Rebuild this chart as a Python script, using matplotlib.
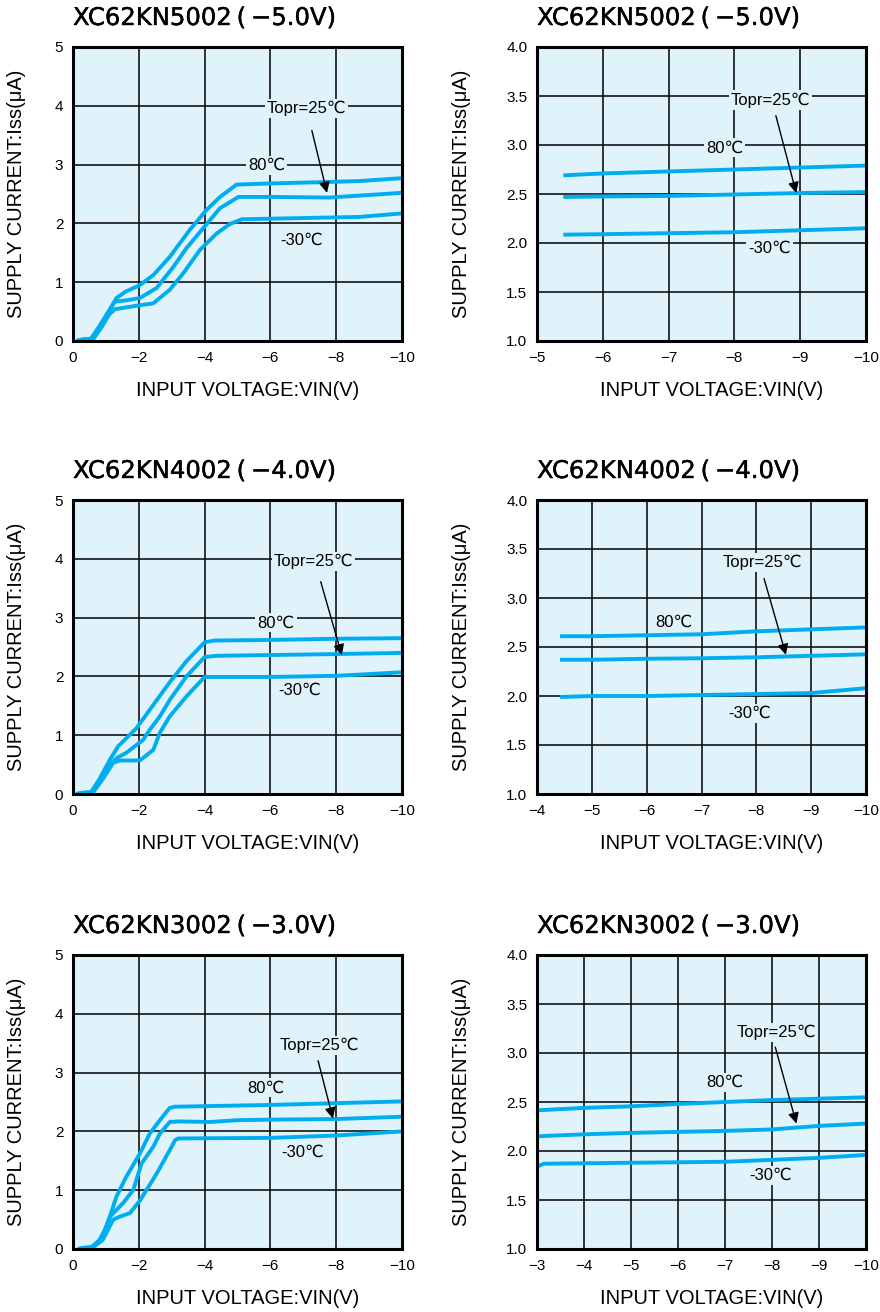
import matplotlib.pyplot as plt
import matplotlib.patheffects as pe

# 色
LINE = '#00aeef'
FACE = '#e0f2fa'

plt.rcParams['font.family'] = ['Liberation Sans', 'DejaVu Sans']

titles = ['XC62KN5002\u2009(\u2009−5.0V)', 'XC62KN4002\u2009(\u2009−4.0V)', 'XC62KN3002\u2009(\u2009−3.0V)']
temp_labels = ['Topr=25℃', '80℃', '-30℃']
xlabel = 'INPUT VOLTAGE:VIN(V)'
ylabel = 'SUPPLY CURRENT:Iss(μA)'

# XC62KN5002 0～-10V
a_v80 = [-0.1, -0.3, -0.55, -0.8, -1.1, -1.32, -1.6, -2.03, -2.44, -2.94, -3.55, -4.06, -4.47, -4.97, -6.0, -7.5, -8.7, -10.0]
a_i80 = [0.0, 0.03, 0.04, 0.25, 0.52, 0.73, 0.84, 0.95, 1.12, 1.43, 1.89, 2.23, 2.45, 2.66, 2.68, 2.70, 2.72, 2.77]
a_v25 = [-0.1, -0.3, -0.55, -0.8, -1.1, -1.27, -1.6, -2.03, -2.54, -3.05, -3.45, -3.96, -4.47, -5.03, -6.0, -7.8, -10.0]
a_i25 = [0.0, 0.02, 0.03, 0.24, 0.5, 0.67, 0.69, 0.73, 0.90, 1.26, 1.58, 1.92, 2.26, 2.45, 2.45, 2.44, 2.52]
a_vm30 = [-0.1, -0.3, -0.6, -0.85, -1.1, -1.27, -1.6, -1.93, -2.44, -2.94, -3.35, -3.86, -4.37, -4.77, -5.13, -6.0, -8.7, -10.0]
a_im30 = [0.0, 0.02, 0.02, 0.22, 0.45, 0.54, 0.57, 0.60, 0.64, 0.87, 1.15, 1.55, 1.83, 1.99, 2.07, 2.08, 2.11, 2.17]

# XC62KN5002 拡大
b_v = [-5.4, -6.0, -7.0, -8.0, -9.0, -10.0]
b_i80 = [2.69, 2.71, 2.73, 2.75, 2.77, 2.79]
b_i25 = [2.47, 2.475, 2.48, 2.495, 2.51, 2.52]
b_im30 = [2.085, 2.09, 2.10, 2.11, 2.13, 2.15]

# XC62KN4002 0～-10V
c_v80 = [-0.1, -0.3, -0.55, -0.8, -1.12, -1.37, -1.93, -2.33, -2.94, -3.45, -4.0, -4.3, -6.0, -8.0, -10.0]
c_i80 = [0.0, 0.02, 0.03, 0.25, 0.58, 0.81, 1.12, 1.43, 1.9, 2.26, 2.58, 2.61, 2.62, 2.64, 2.65]
c_v25 = [-0.1, -0.3, -0.55, -0.85, -1.12, -1.35, -1.62, -2.13, -2.33, -2.64, -2.94, -3.45, -4.0, -4.37, -8.0, -10.0]
c_i25 = [0.0, 0.02, 0.03, 0.25, 0.50, 0.62, 0.70, 0.92, 1.09, 1.32, 1.6, 2.0, 2.33, 2.35, 2.38, 2.40]
c_vm30 = [-0.1, -0.3, -0.6, -0.9, -1.22, -1.42, -2.03, -2.44, -2.64, -2.94, -3.45, -4.0, -6.0, -8.0, -10.0]
c_im30 = [0.0, 0.02, 0.02, 0.25, 0.53, 0.57, 0.57, 0.75, 1.04, 1.32, 1.66, 1.99, 1.99, 2.01, 2.07]

# XC62KN4002 拡大
d_v = [-4.42, -5.0, -6.0, -7.0, -8.0, -9.0, -10.0]
d_i80 = [2.61, 2.61, 2.62, 2.63, 2.66, 2.68, 2.70]
d_i25 = [2.37, 2.37, 2.38, 2.385, 2.395, 2.41, 2.425]
d_im30 = [1.99, 2.0, 2.0, 2.01, 2.02, 2.03, 2.08]

# XC62KN3002 0～-10V
e_v80 = [-0.15, -0.35, -0.56, -0.8, -1.02, -1.32, -1.62, -2.03, -2.33, -2.64, -2.94, -3.1, -6.0, -8.0, -10.0]
e_i80 = [0.0, 0.02, 0.03, 0.15, 0.38, 0.89, 1.23, 1.62, 1.96, 2.19, 2.4, 2.42, 2.45, 2.48, 2.51]
e_v25 = [-0.15, -0.35, -0.6, -0.85, -1.12, -1.52, -1.83, -2.08, -2.44, -2.64, -2.94, -3.2, -4.16, -4.97, -6.0, -8.0, -10.0]
e_i25 = [0.0, 0.02, 0.03, 0.15, 0.55, 0.78, 1.0, 1.45, 1.74, 1.96, 2.16, 2.17, 2.16, 2.19, 2.20, 2.21, 2.25]
e_vm30 = [-0.15, -0.35, -0.6, -0.9, -1.22, -1.42, -1.73, -2.03, -2.23, -2.54, -2.94, -3.1, -3.2, -6.0, -8.0, -10.0]
e_im30 = [0.0, 0.02, 0.03, 0.15, 0.5, 0.55, 0.61, 0.82, 1.0, 1.28, 1.68, 1.85, 1.88, 1.89, 1.93, 2.0]

# XC62KN3002 拡大
f_v = [-3.0, -4.0, -5.0, -6.0, -7.0, -8.0, -9.0, -10.0]
f_i80 = [2.415, 2.44, 2.456, 2.48, 2.50, 2.52, 2.534, 2.548]
f_i25 = [2.15, 2.17, 2.185, 2.195, 2.205, 2.22, 2.256, 2.28]
f_vm30 = [-3.0, -3.14, -4.0, -5.0, -6.0, -7.0, -8.0, -9.0, -10.0]
f_im30 = [1.84, 1.87, 1.875, 1.88, 1.885, 1.89, 1.91, 1.93, 1.96]


def draw_panel(ax, title, curves, xmin, ylim, yticks, lab_pos, arrow):
    ax.set_facecolor(FACE)
    for v, i in curves:
        ax.plot(v, i, color=LINE, lw=2.8, solid_capstyle='butt', solid_joinstyle='round')
    ax.set_xlim(xmin, -10)
    ax.set_ylim(ylim)
    if xmin == 0:
        ax.set_xticks(range(0, -11, -2))
    else:
        ax.set_xticks(range(xmin, -11, -1))
    ax.set_yticks(yticks)
    ax.grid(color='black', lw=1.1)
    ax.tick_params(length=0, labelsize=11, pad=7)
    for s in ax.spines.values():
        s.set_linewidth(2.2)
        s.set_zorder(5)
    # 温度ラベル
    for txt, (x, y) in zip(temp_labels, lab_pos):
        ax.text(x, y, txt, ha='center', va='center', fontsize=12,
                bbox=dict(fc=FACE, ec='none', pad=1.5))
    # 矢印
    ax.annotate('', xy=arrow[1], xytext=arrow[0],
                arrowprops=dict(arrowstyle='-|>', color='black', lw=1.0,
                                mutation_scale=16, shrinkA=0, shrinkB=0))
    # タイトル
    ax.text(0.0, 1 + 29 / 294, title, transform=ax.transAxes, ha='left', va='center',
            fontsize=17.5, family=['DejaVu Sans'],
            path_effects=[pe.withStroke(linewidth=0.3, foreground='black')])
    ax.set_xlabel(xlabel, fontsize=14.5)
    ax.set_ylabel(ylabel, fontsize=14.5)


def main():
    fig = plt.figure(figsize=(8.8, 13.12), dpi=100)
    lefts = [73 / 880, 537 / 880]
    bottoms = [1 - 341 / 1312, 1 - 794 / 1312, 1 - 1249 / 1312]
    w = 329 / 880
    h = 294 / 1312

    rows = [
        ([(a_v80, a_i80), (a_v25, a_i25), (a_vm30, a_im30)],
         [(b_v, b_i80), (b_v, b_i25), (b_v, b_im30)], -5,
         [(-7.1, 3.95), (-5.89, 2.99), (-6.95, 1.72)], ((-7.26, 3.58), (-7.72, 2.52)),
         [(-8.55, 3.46), (-7.85, 2.97), (-8.53, 1.95)], ((-8.63, 3.30), (-8.94, 2.51))),
        ([(c_v80, c_i80), (c_v25, c_i25), (c_vm30, c_im30)],
         [(d_v, d_i80), (d_v, d_i25), (d_v, d_im30)], -4,
         [(-7.31, 3.95), (-6.17, 2.91), (-6.88, 1.76)], ((-7.53, 3.61), (-8.17, 2.36)),
         [(-8.11, 3.36), (-6.5, 2.75), (-7.87, 1.82)], ((-8.14, 3.2), (-8.54, 2.42))),
        ([(e_v80, e_i80), (e_v25, e_i25), (e_vm30, e_im30)],
         [(f_v, f_i80), (f_v, f_i25), (f_vm30, f_im30)], -3,
         [(-7.5, 3.46), (-5.87, 2.74), (-6.97, 1.65)], ((-7.45, 3.2), (-7.9, 2.22)),
         [(-8.09, 3.21), (-6.99, 2.70), (-7.98, 1.75)], ((-8.07, 3.06), (-8.52, 2.28))),
    ]

    for r, (full, zoom, zmin, lpos, larr, rpos, rarr) in enumerate(rows):
        axl = fig.add_axes([lefts[0], bottoms[r], w, h])
        draw_panel(axl, titles[r], full, 0, (0, 5), range(0, 6), lpos, larr)
        axl.yaxis.set_label_coords(-47 / 329, 0.5)
        axl.xaxis.set_label_coords(0.53, -0.135)

        axr = fig.add_axes([lefts[1], bottoms[r], w, h])
        draw_panel(axr, titles[r], zoom, zmin, (1.0, 4.0),
                   [1.0, 1.5, 2.0, 2.5, 3.0, 3.5, 4.0], rpos, rarr)
        axr.yaxis.set_label_coords(-66 / 329, 0.5)
        axr.xaxis.set_label_coords(0.53, -0.135)

    fig.savefig('out.png', dpi=100)


if __name__ == '__main__':
    main()
